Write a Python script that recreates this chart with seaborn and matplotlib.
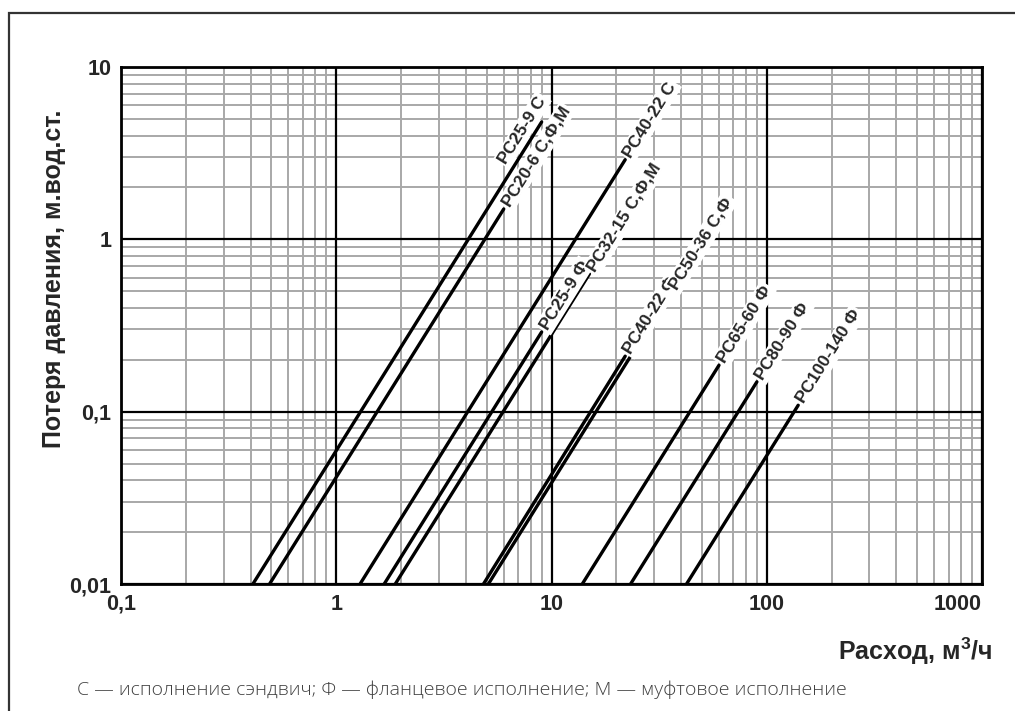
import numpy as np
import pandas as pd
import matplotlib
matplotlib.use('Agg')
import matplotlib.pyplot as plt
from matplotlib.patches import Rectangle
from matplotlib.ticker import LogLocator, NullFormatter
import seaborn as sns

# valve curves: flow at 0.01 m (bottom of chart) and at the end of each line
names = ['РС25-9 С', 'РС20-6 С,Ф,М', 'РС40-22 С', 'РС25-9 Ф', 'РС32-15 С,Ф,М',
         'РС40-22 Ф', 'РС50-36 С,Ф', 'РС65-60 Ф', 'РС80-90 Ф', 'РС100-140 Ф']
q_lo = [0.41, 0.49, 1.29, 1.67, 1.88, 4.83, 5.09, 13.9, 23.3, 42.4]
dp_lo = [0.01] * 10
q_hi = [9, 6, 22, 9, 15, 22, 36, 60, 90, 140]
dp_hi = [4.8, 1.5, 2.9, 0.29, 0.63, 0.21, 0.50, 0.186, 0.149, 0.109]

x_ticks = [0.1, 1, 10, 100, 1000]
x_labels = ['0,1', '1', '10', '100', '1000']
y_ticks = [0.01, 0.1, 1, 10]
y_labels = ['0,01', '0,1', '1', '10']

# label placement relative to line end (pixels: along line, across line)
lab_off = [(-55, 12), (4, 0), (4, 0), (4, 0), (4, 0),
           (4, 0), (4, 0), (4, 0), (4, 0), (4, 0)]

df = pd.DataFrame({
    'name': names * 2,
    'q': q_lo + q_hi,
    'dp': dp_lo + dp_hi,
})

sns.set_theme(style='white')
plt.rcParams['font.family'] = ['Liberation Sans', 'DejaVu Sans']
plt.rcParams['mathtext.fontset'] = 'custom'
plt.rcParams['mathtext.rm'] = 'Liberation Sans:bold'
plt.rcParams['mathtext.bf'] = 'Liberation Sans:bold'

fig = plt.figure(figsize=(10.15, 7.11), dpi=100)
ax = fig.add_axes([121/1015, 1-584/711, 861/1015, 517/711])
ax.set_xscale('log')
ax.set_yscale('log')
ax.set_xlim(0.1, 1000)
ax.set_ylim(0.01, 10)

ax.xaxis.set_minor_locator(LogLocator(base=10, subs=np.arange(2, 10)))
ax.yaxis.set_minor_locator(LogLocator(base=10, subs=np.arange(2, 10)))
ax.xaxis.set_minor_formatter(NullFormatter())
ax.yaxis.set_minor_formatter(NullFormatter())
ax.grid(which='minor', color='#a8a8a8', lw=1.4)
ax.grid(which='major', visible=False)
for v in x_ticks:
    ax.axvline(v, color='black', lw=1.6, zorder=1)
for v in y_ticks:
    ax.axhline(v, color='black', lw=1.6, zorder=1)
ax.set_axisbelow(True)

sns.lineplot(data=df, x='q', y='dp', units='name', estimator=None, color='black',
             lw=2.4, ax=ax, legend=False, zorder=3)

ax.set_xticks(x_ticks, x_labels)
ax.set_yticks(y_ticks, y_labels)
ax.tick_params(which='both', length=0)
ax.tick_params(axis='x', pad=7, labelsize=15.5)
ax.tick_params(axis='y', pad=7, labelsize=15.5)
for t in ax.get_xticklabels() + ax.get_yticklabels():
    t.set_fontweight('bold')
ax.get_xticklabels()[-1].set_ha('right')

for s in ax.spines.values():
    s.set_color('black')
    s.set_linewidth(2)
    s.set_zorder(4)

ax.set_xlabel(r'Расход, м$^{3}$/ч', fontsize=18, fontweight='bold', loc='right')
ax.xaxis.set_label_coords((992-121)/861, (584-636)/517)
ax.set_ylabel('Потеря давления, м.вод.ст.', fontsize=18, fontweight='bold', va='center')
ax.yaxis.set_label_coords((54-121)/861, (584-279)/517)

for i, name in enumerate(names):
    p0 = ax.transData.transform((q_lo[i], dp_lo[i]))
    p1 = ax.transData.transform((q_hi[i], dp_hi[i]))
    a = np.arctan2(p1[1]-p0[1], p1[0]-p0[0])
    along, across = lab_off[i]
    dx = along*np.cos(a) - across*np.sin(a)
    dy = along*np.sin(a) + across*np.cos(a)
    ax.annotate(name, xy=(q_hi[i], dp_hi[i]), xytext=(dx, dy), textcoords='offset pixels',
                rotation=np.degrees(a), rotation_mode='anchor', ha='left', va='center',
                fontsize=12.5, fontweight='bold', zorder=5,
                bbox=dict(fc='white', ec='none', pad=1.5))

fig.text(77/1015, 1-690/711,
         'С — исполнение сэндвич; Ф — фланцевое исполнение; М — муфтовое исполнение',
         family=['Open Sans', 'DejaVu Sans'], fontweight='light', fontsize=14,
         color='#404040', va='center', ha='left')

fig.add_artist(Rectangle((9/1015, -0.05), 1.1, (711-12.5)/711+0.05,
                         transform=fig.transFigure, fill=False, ec='#333333', lw=1.6))

fig.savefig('out.png', dpi=100, facecolor='white')
